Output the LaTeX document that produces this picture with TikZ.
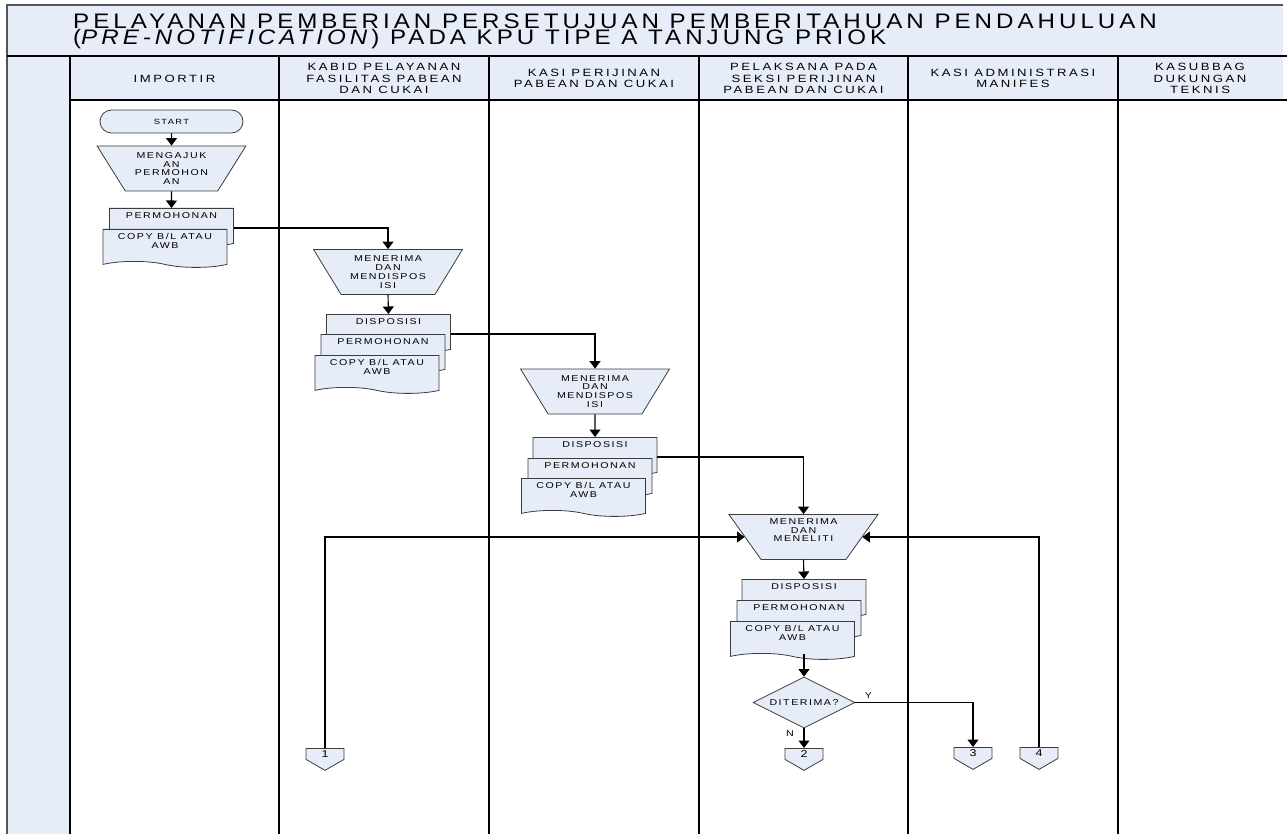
\documentclass[tikz,border=0pt]{standalone}
\usepackage{fontspec}
\usepackage{tikz}
\usetikzlibrary{arrows.meta, positioning, calc, shapes.geometric, shapes.symbols, shapes.misc}
\newfontfamily\titlefont[FakeStretch=1.15, LetterSpace=19]{Liberation Sans}
\newfontfamily\headfont[FakeStretch=1.25, LetterSpace=24]{Liberation Sans}
\newfontfamily\shapefont[FakeStretch=1.25, LetterSpace=18]{Liberation Sans}
\definecolor{lanefill}{RGB}{230,237,248}
\definecolor{framegray}{RGB}{85,85,85}
\definecolor{shapeline}{RGB}{60,60,60}
\newcommand{\doctext}[1]{\parbox[c][24pt][t]{118pt}{\centering #1}}

\begin{document}
\begin{tikzpicture}[x=1pt, y=-1pt,
  every node/.style={font=\shapefont\fontsize{8.5}{8.8}\selectfont, align=center, inner sep=0pt},
  lanehead/.style={font=\headfont\fontsize{10.5}{11.3}\selectfont},
  titleline/.style={anchor=base west, font=\titlefont\fontsize{21}{15}\selectfont},
  termbox/.style={rounded rectangle, draw=shapeline, fill=lanefill, line width=0.8pt, minimum width=143pt, minimum height=23pt, font=\shapefont\fontsize{7.5}{8}\selectfont},
  manualop/.style={trapezium, shape border rotate=180, trapezium angle=55.4, trapezium stretches=true, draw=shapeline, fill=lanefill, line width=0.8pt, minimum width=149pt, minimum height=45pt},
  docbox/.style={tape, tape bend top=none, tape bend bottom=out and in, tape bend height=6pt, draw=shapeline, fill=lanefill, line width=0.8pt, anchor=north, inner xsep=3pt, inner ysep=4pt},
  decision/.style={diamond, aspect=2, draw=shapeline, fill=lanefill, line width=0.8pt, minimum width=102pt, minimum height=51pt},
  offpage/.style={signal, signal to=south, signal pointer angle=120, draw=shapeline, fill=lanefill, line width=0.8pt, minimum width=38pt, minimum height=13pt, inner ysep=1.5pt, anchor=north, font=\shapefont\fontsize{10}{10}\selectfont},
  flow/.style={line width=1.1pt, -{Triangle[width=11pt, length=7.5pt]}}]
\useasboundingbox (0,0) rectangle (1287,834);
\fill[lanefill] (7,5) rectangle (1283,100);
\fill[lanefill] (7,100) rectangle (70,834);
\draw[framegray, line width=1.5pt] (7,834) -- (7,5) -- (1283,5);
\draw[line width=1.8pt] (7,56) -- (1287,56);
\draw[line width=1.2pt] (70,100) -- (1287,100);
\foreach \xl in {70,279,489,699,908,1118} \draw[line width=1.2pt] (\xl,56) -- (\xl,834);

\node[titleline] (title1) at (73,28.5) {PELAYANAN PEMBERIAN PERSETUJUAN PEMBERITAHUAN PENDAHULUAN};
\node[titleline] (title2) at (73,44.5) {(\textit{PRE-NOTIFICATION}) PADA KPU TIPE A TANJUNG PRIOK};

\node[lanehead] (importir) at (174.5,78.5) {IMPORTIR};
\node[lanehead] (kabid) at (384,78.5) {KABID PELAYANAN\\FASILITAS PABEAN\\DAN CUKAI};
\node[lanehead] (kasiizin) at (594,78.5) {KASI PERIJINAN\\PABEAN DAN CUKAI};
\node[lanehead] (pelaksana) at (803.5,78.5) {PELAKSANA PADA\\SEKSI PERIJINAN\\PABEAN DAN CUKAI};
\node[lanehead] (kasiadm) at (1013,78.5) {KASI ADMINISTRASI\\MANIFES};
\node[lanehead] (kasubbag) at (1200,78.5) {KASUBBAG\\DUKUNGAN\\TEKNIS};

\node[termbox] (start) at (171.5,121.5) {START};
\node[manualop] (ajukan) at (171.5,168.5) {MENGAJUK\\AN\\PERMOHON\\AN};
\node[docbox] (mohon1) at (171.5,208) {\doctext{PERMOHONAN}};
\node[docbox] (copy1) at (165,229) {\doctext{COPY B/L ATAU\\AWB}};

\node[manualop] (terima1) at (388,272) {MENERIMA\\DAN\\MENDISPOS\\ISI};
\node[docbox] (dispo2) at (388.5,314) {\doctext{DISPOSISI}};
\node[docbox] (mohon2) at (383,334) {\doctext{PERMOHONAN}};
\node[docbox] (copy2) at (377,355) {\doctext{COPY B/L ATAU\\AWB}};

\node[manualop] (terima2) at (595,391.5) {MENERIMA\\DAN\\MENDISPOS\\ISI};
\node[docbox] (dispo3) at (595,437) {\doctext{DISPOSISI}};
\node[docbox] (mohon3) at (590,458) {\doctext{PERMOHONAN}};
\node[docbox] (copy3) at (583.5,478) {\doctext{COPY B/L ATAU\\AWB}};

\node[manualop] (teliti) at (803.5,537) {MENERIMA\\DAN\\MENELITI\\[5pt]};
\node[docbox] (dispo4) at (804,579) {\doctext{DISPOSISI}};
\node[docbox] (mohon4) at (799,600) {\doctext{PERMOHONAN}};
\node[docbox] (copy4) at (792.5,621) {\doctext{COPY B/L ATAU\\AWB}};
\node[decision] (cek) at (804,702.5) {DITERIMA?};

\node[offpage] (ref1) at (325,748) {1};
\node[offpage] (ref2) at (804,748) {2};
\node[offpage] (ref3) at (973,747) {3};
\node[offpage] (ref4) at (1039,747) {4};

\draw[flow] (start.south) -- (ajukan.north);
\draw[flow] (ajukan.south) -- (mohon1.north);
\draw[flow] ([yshift=-20pt]mohon1.north east) -| (terima1.north);
\draw[flow] (terima1.south) -- (dispo2.north);
\draw[flow] ([yshift=-20pt]dispo2.north east) -| (terima2.north);
\draw[flow] (terima2.south) -- (dispo3.north);
\draw[flow] ([yshift=-20pt]dispo3.north east) -| (teliti.north);
\draw[flow] (teliti.south) -- (dispo4.north);
\draw[flow] (cek.north |- copy4.south) -- (cek.north);
\draw[flow] (cek.south) -- (ref2.north);
\draw[flow] (cek.east) -| (ref3.north);
\draw[flow] (ref1.north) |- (teliti.west);
\draw[flow] (ref4.north) |- (teliti.east);
\node (ylab) at ([xshift=13pt, yshift=7pt]cek.east) {Y};
\node (nlab) at ([xshift=-14pt, yshift=-5pt]cek.south) {N};
\end{tikzpicture}
\end{document}
